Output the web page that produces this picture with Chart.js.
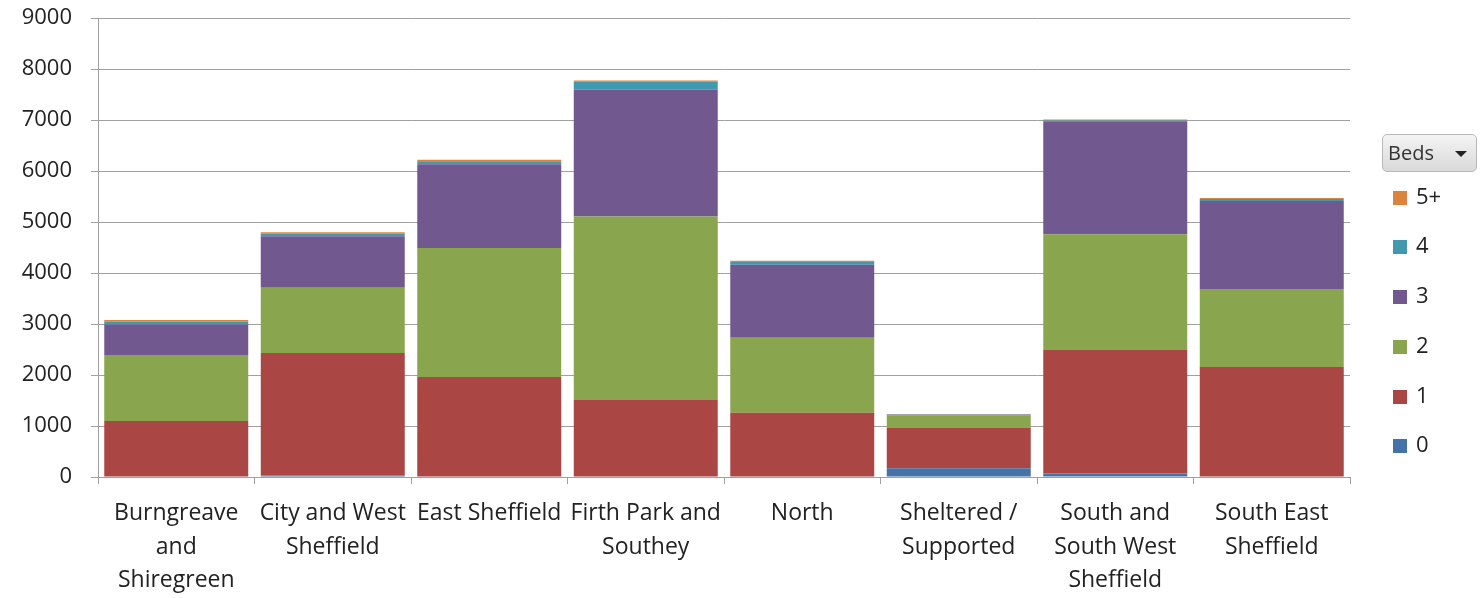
<!DOCTYPE html>
<html>
<head>
<meta charset="utf-8">
<script src="https://cdn.jsdelivr.net/npm/chart.js@4.4.0/dist/chart.umd.min.js"></script>
<style>
  body { margin: 0; background: #fff; }
  #wrap { position: relative; width: 1484px; height: 598px; }
  #beds { position: absolute; left: 1382px; top: 134px; width: 95px; height: 38px; box-sizing: border-box;
          border: 1px solid #b8b8b8; border-radius: 5px; background: linear-gradient(#f4f4f4, #d9d9d9);
          font: 20px "Open Sans", sans-serif; color: #333; padding: 4px 0 0 5px; }
  #beds span { position: absolute; right: 9px; top: 16px; width: 0; height: 0;
               border-left: 6px solid transparent; border-right: 6px solid transparent; border-top: 6px solid #222; }
  #legend { position: absolute; left: 1393px; top: 0; font: 22px "Open Sans", sans-serif; color: #222; }
  .item { position: absolute; left: 0; white-space: nowrap; }
  .item i { display: inline-block; width: 14px; height: 14px; margin-right: 9px; vertical-align: -1px; }
</style>
</head>
<body>
<div id="wrap">
  <canvas id="c" width="1484" height="598"></canvas>
  <div id="beds">Beds<span></span></div>
  <div id="legend"></div>
</div>
<script>
const areas = [
  ['Burngreave', 'and', 'Shiregreen'],
  ['City and West', 'Sheffield'],
  'East Sheffield',
  ['Firth Park and', 'Southey'],
  'North',
  ['Sheltered /', 'Supported'],
  ['South and', 'South West', 'Sheffield'],
  ['South East', 'Sheffield']
];
const beds = ['0', '1', '2', '3', '4', '5+'];
const colors = ['#4572A7', '#AA4643', '#89A54E', '#71588F', '#4198AF', '#DB843D'];

const beds0  = [0,    30,   0,    0,    0,    170, 70,   0];
const beds1  = [1100, 2400, 1960, 1510, 1260, 800, 2420, 2155];
const beds2  = [1290, 1280, 2530, 3600, 1470, 235, 2270, 1530];
const beds3  = [600,  1010, 1640, 2490, 1430, 20,  2215, 1725];
const beds4  = [60,   55,   60,   150,  55,   5,   15,   40];
const beds5p = [30,   25,   30,   25,   25,   0,   20,   20];
const series = [beds0, beds1, beds2, beds3, beds4, beds5p];

const yTicks = [0, 1000, 2000, 3000, 4000, 5000, 6000, 7000, 8000, 9000];

const font = '"Open Sans", sans-serif';

new Chart(document.getElementById('c'), {
  type: 'bar',
  data: {
    labels: areas,
    datasets: series.map((d, i) => ({
      label: beds[i],
      data: d,
      backgroundColor: colors[i],
      borderWidth: 0,
      categoryPercentage: 1,
      barPercentage: 0.92
    }))
  },
  options: {
    responsive: false,
    animation: false,
    layout: { padding: { top: 18, right: 134, left: 0, bottom: 0 } },
    plugins: { legend: { display: false }, tooltip: { enabled: false } },
    scales: {
      x: {
        stacked: true,
        grid: { display: true, drawOnChartArea: false, drawTicks: true, tickLength: 7, offset: true, color: '#a0a0a0' },
        border: { color: '#a0a0a0' },
        ticks: { color: '#222', font: { family: font, size: 23, lineHeight: 1.45 }, padding: 13, maxRotation: 0, autoSkip: false },
        afterFit: s => { s.height = 121; s.paddingLeft = 0; s.paddingRight = 0; }
      },
      y: {
        stacked: true,
        min: 0, max: 9000,
        afterBuildTicks: s => { s.ticks = yTicks.map(v => ({ value: v })); },
        grid: { color: '#a0a0a0', tickLength: 7 },
        border: { color: '#a0a0a0' },
        ticks: { color: '#222', font: { family: font, size: 22 }, padding: 19, callback: v => String(v) },
        afterFit: s => { s.width = 98; s.paddingTop = 0; s.paddingBottom = 0; }
      }
    }
  }
});

const leg = document.getElementById('legend');
const ys = [196, 245, 295, 345, 395, 444];
beds.slice().reverse().forEach((b, k) => {
  const i = beds.length - 1 - k;
  const el = document.createElement('div');
  el.className = 'item';
  el.style.top = (ys[k] - 16) + 'px';
  el.innerHTML = '<i style="background:' + colors[i] + '"></i>' + b;
  leg.appendChild(el);
});
</script>
</body>
</html>
